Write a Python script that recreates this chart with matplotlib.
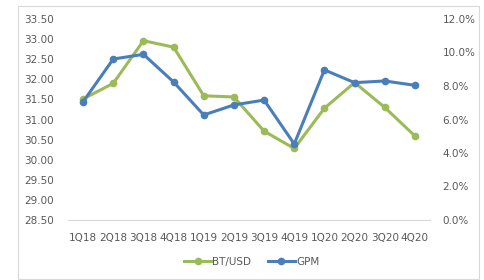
import matplotlib
matplotlib.use("Agg")
import matplotlib.pyplot as plt
from matplotlib.patches import Rectangle
from matplotlib.ticker import FuncFormatter

quarters = ['1Q18', '2Q18', '3Q18', '4Q18', '1Q19', '2Q19', '3Q19', '4Q19',
            '1Q20', '2Q20', '3Q20', '4Q20']
bt_usd = [31.51, 31.90, 32.96, 32.80, 31.59, 31.56, 30.71, 30.28,
          31.28, 31.92, 31.30, 30.59]
gpm = [7.06, 9.61, 9.89, 8.24, 6.27, 6.87, 7.16, 4.54,
       8.96, 8.20, 8.30, 8.04]

green = '#9BBB59'
blue = '#4A7EBB'
txt = '#595959'

fig = plt.figure(figsize=(4.84, 2.80), dpi=100)
# light frame around the chart
fig.patches.append(Rectangle((18 / 484, 1 / 280), 461 / 484, 273 / 280,
                             transform=fig.transFigure, fill=False,
                             edgecolor='#D9D9D9', lw=0.8))

ax = fig.add_axes([68 / 484, 60 / 280, 362 / 484, 201 / 280])
ax2 = ax.twinx()

x = range(len(quarters))
l1, = ax.plot(x, bt_usd, color=green, lw=2.2, marker='o', ms=4.5, label='BT/USD')
l2, = ax2.plot(x, gpm, color=blue, lw=2.2, marker='o', ms=4.5, label='GPM')

ax.set_ylim(28.5, 33.5)
ax.set_yticks([28.5 + 0.5 * i for i in range(11)])
ax.yaxis.set_major_formatter(FuncFormatter(lambda v, p: '%.2f' % v))
ax2.set_ylim(0, 12)
ax2.set_yticks([0, 2, 4, 6, 8, 10, 12])
ax2.yaxis.set_major_formatter(FuncFormatter(lambda v, p: '%.1f%%' % v))
ax.set_xlim(-0.5, len(quarters) - 0.5)
ax.set_xticks(list(x))
ax.set_xticklabels(quarters)

for a in (ax, ax2):
    for s in ['top', 'left', 'right']:
        a.spines[s].set_visible(False)
    a.spines['bottom'].set_visible(False)
    a.tick_params(length=0, colors=txt, labelsize=7.5)
ax.spines['bottom'].set_visible(True)
ax.spines['bottom'].set_color('#D9D9D9')
ax.tick_params(axis='y', pad=10)
ax.tick_params(axis='x', pad=9)
ax2.tick_params(axis='y', pad=9)

fig.legend(handles=[l1, l2], loc='center', bbox_to_anchor=(0.52, 0.065),
           ncol=2, frameon=False, fontsize=7.5, handlelength=2.6,
           columnspacing=1.6, handletextpad=0.1, labelcolor=txt)

fig.savefig('out.png', dpi=100)
